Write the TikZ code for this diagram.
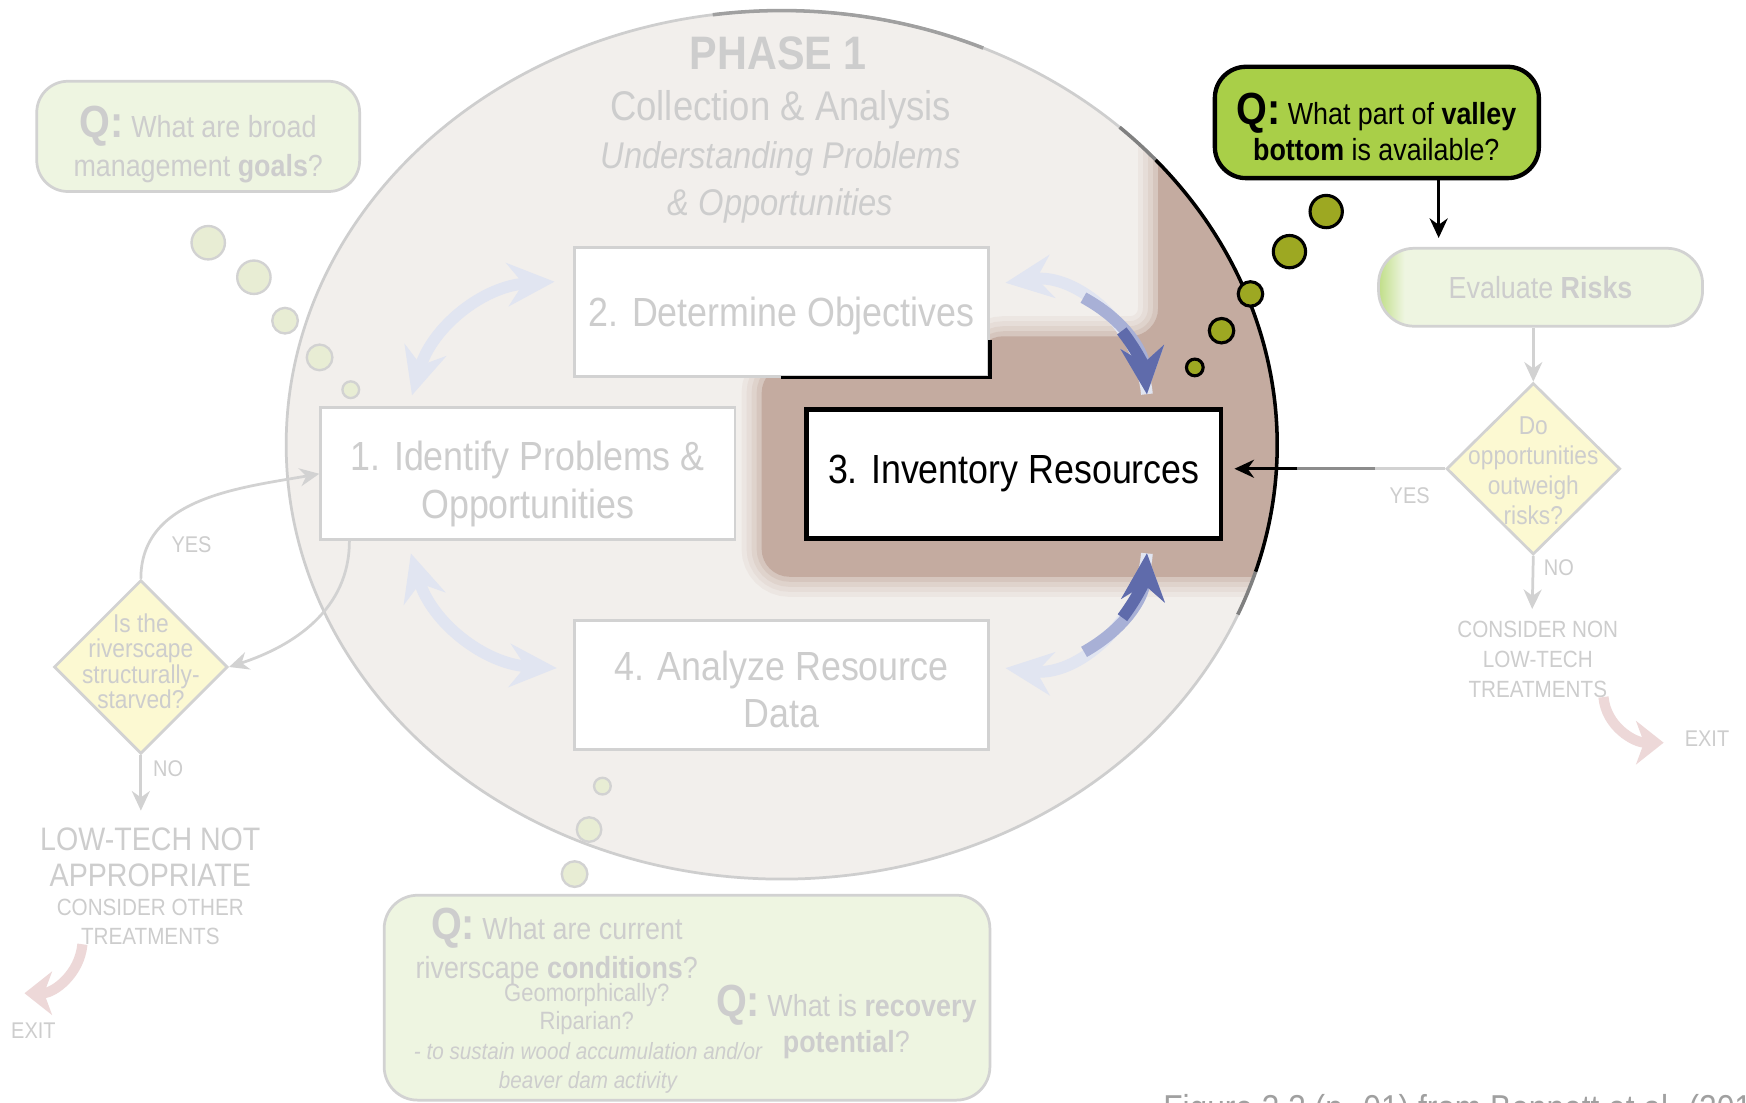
\documentclass[tikz,border=0pt]{standalone}
\usepackage{fontspec}
\setmainfont[FakeStretch=0.88]{Liberation Sans}
\usetikzlibrary{positioning,shapes.geometric,arrows.meta}

\definecolor{fadetext}{RGB}{205,205,205}
\definecolor{fadeline}{RGB}{210,210,210}
\definecolor{phasefill}{RGB}{242,239,236}
\definecolor{phaseline}{RGB}{206,206,206}
\definecolor{phasetop}{RGB}{160,160,160}
\definecolor{brownhl}{RGB}{196,171,160}
\definecolor{qfill}{RGB}{238,245,225}
\definecolor{thoughtfill}{RGB}{232,237,212}
\definecolor{qgreen}{RGB}{169,207,72}
\definecolor{dotgreen}{RGB}{157,168,34}
\definecolor{decfill}{RGB}{252,249,210}
\definecolor{cyclelight}{RGB}{225,229,241}
\definecolor{cyclemid}{RGB}{168,176,214}
\definecolor{cycledark}{RGB}{95,107,171}
\definecolor{exitpink}{RGB}{237,216,216}
\definecolor{glowgreen}{RGB}{192,222,135}
\definecolor{captiongray}{RGB}{160,160,160}

\pgfdeclarehorizontalshading{evalglow}{100bp}{color(0bp)=(glowgreen); color(25bp)=(glowgreen); color(29bp)=(qfill); color(100bp)=(qfill)}

\newcommand{\Qtag}{{\fontsize{11.5}{10}\selectfont\bfseries Q:}}

\begin{document}
\begin{tikzpicture}[x=0.1mm, y=0.1mm,
  phasebox/.style={rectangle, draw=fadeline, line width=0.7pt, fill=white, minimum width=37.2mm, minimum height=11.6mm, align=center, text=fadetext, font=\fontsize{10.4}{12.2}\selectfont},
  qbubble/.style={rectangle, rounded corners=2.8mm, draw=fadeline, line width=0.7pt, fill=qfill},
  qtext/.style={align=center, text=fadetext, inner sep=0pt, font=\fontsize{7.8}{10}\selectfont},
  evalbox/.style={rectangle, rounded corners=3.2mm, draw=fadeline, line width=0.7pt, shade, shading=evalglow, minimum width=29.1mm, minimum height=7mm, text=fadetext, font=\fontsize{7.8}{9}\selectfont},
  thought/.style={circle, draw=fadeline, line width=0.6pt, fill=thoughtfill, inner sep=0pt},
  greendot/.style={circle, draw=black, line width=0.8pt, fill=dotgreen, inner sep=0pt},
  decision/.style={diamond, draw=fadeline, line width=0.7pt, fill=decfill, inner sep=0pt, minimum width=15.6mm, minimum height=15.4mm},
  dectext/.style={align=center, text=fadetext, inner sep=0pt, font=\fontsize{6.6}{7.7}\selectfont},
  flow/.style={draw=fadeline, line width=0.7pt, -{Stealth[length=5pt,width=4.6pt]}},
  lbl/.style={text=fadetext, inner sep=0pt, font=\fontsize{5.8}{7}\selectfont},
  cyclearrow/.style={line width=3pt, {Stealth[length=12pt,width=11pt,inset=4pt]}-{Stealth[length=12pt,width=11pt,inset=4pt]}},
  cyclehead/.style={line width=3pt, -{Stealth[length=12pt,width=11pt,inset=4pt]}},
  cycletail/.style={line width=3pt, {Stealth[length=12pt,width=11pt,inset=4pt]}-},
  exitarrow/.style={draw=exitpink, line width=2.6pt, -{Stealth[length=7pt,width=11pt,inset=2pt]}}]

  \useasboundingbox (0,0) rectangle (1568,990);
  \fill[white] (0,0) rectangle (1568,990);

  % phase 1 ellipse and the highlighted corner
  \coordinate (phasec) at (702,590.5);
  \fill[phasefill] (phasec) ellipse [x radius=445, y radius=390];
  \begin{scope}
    \clip (phasec) ellipse [x radius=445, y radius=390];
    \fill[brownhl, rounded corners=2.5mm,
      preaction={draw=brownhl, line width=3.6mm, opacity=0.12},
      preaction={draw=brownhl, line width=2.7mm, opacity=0.15},
      preaction={draw=brownhl, line width=1.8mm, opacity=0.2},
      preaction={draw=brownhl, line width=0.9mm, opacity=0.3}]
      (684,472) -- (684,662) -- (876,662) -- (876,688) -- (1040,688) -- (1040,1000) -- (1200,1000) -- (1200,472) -- cycle;
  \end{scope}
  \draw[phaseline, line width=0.7pt] (phasec) ellipse [x radius=445, y radius=390];
  \draw[phasetop, line width=0.9pt] (phasec) ++(98:445 and 390) arc[start angle=98, end angle=66, x radius=445, y radius=390];
  \draw[black!50, line width=0.9pt] (phasec) ++(47:445 and 390) arc[start angle=47, end angle=41, x radius=445, y radius=390];
  \draw[black, line width=0.9pt] (phasec) ++(41:445 and 390) arc[start angle=41, end angle=-17, x radius=445, y radius=390];
  \draw[black!50, line width=0.9pt] (phasec) ++(-17:445 and 390) arc[start angle=-17, end angle=-23, x radius=445, y radius=390];

  \node[text=fadetext, font=\fontsize{12}{14}\selectfont\bfseries] (phase) at (699,942) {PHASE 1};
  \node[text=fadetext, align=center, font=\fontsize{10.6}{12.2}\selectfont] (phasesub) at (701,849) {Collection \& Analysis\\\textit{\fontsize{9.5}{12.2}\selectfont Understanding Problems}\\\textit{\fontsize{9.5}{12.2}\selectfont \& Opportunities}};

  % the four steps
  \node[phasebox] (box1) at (474,564.5) {\rule{0pt}{12.7pt}1. Identify Problems \&\\Opportunities};
  \node[phasebox] (box2) at (702,710) {\rule{0pt}{9.9pt}2. Determine Objectives};
  \node[phasebox, draw=black, line width=1.2pt, text=black] (box3) at (910.5,564.5) {3. Inventory Resources};
  \node[phasebox] (box4) at (702,375) {\rule{0pt}{9.9pt}4. Analyze Resource\\Data};
  \draw[black, line width=0.9pt] ([xshift=-18.8mm]box2.south east) -- (box2.south east) -- ([yshift=3.4mm]box2.south east);

  % cycle arrows
  \coordinate (a12s) at (370,635);
  \coordinate (a12e) at (498,737);
  \coordinate (a23s) at (903,736);
  \coordinate (a23e) at (1030,636);
  \coordinate (a34s) at (1030,493);
  \coordinate (a34e) at (903,390);
  \coordinate (a41s) at (500,390);
  \coordinate (a41e) at (369,493);
  \draw[cyclearrow, cyclelight] (a12s) to[bend left=35] (a12e);
  \draw[cyclearrow, cyclelight] (a41s) to[bend left=35] (a41e);
  \draw[cycletail, cyclelight] (a23s) to[bend left=46] node[coordinate, pos=0.4] (a23m) {} node[coordinate, pos=0.66] (a23n) {} (a23e);
  \draw[cyclehead, cyclemid] (a23m) to[bend left=28] (a23e);
  \draw[cyclehead, cycledark] (a23n) to[bend left=16] (a23e);
  \draw[cyclehead, cyclelight] (a34s) to[bend left=46] node[coordinate, pos=0.6] (a34m) {} node[coordinate, pos=0.34] (a34n) {} (a34e);
  \draw[cyclehead, cyclemid] (a34m) to[bend right=28] (a34s);
  \draw[cyclehead, cycledark] (a34n) to[bend right=16] (a34s);

  % goals question
  \node[qbubble, minimum width=29mm, minimum height=9.9mm] (goals) at (178,867.5) {};
  \node[qtext] (goalsq) at (178,860) {\Qtag{} What are broad\\management \textbf{goals}?};
  \node[thought, minimum size=3mm] (goaldot1) at (187,772) {};
  \node[thought, minimum size=3mm] (goaldot2) at (228,741) {};
  \node[thought, minimum size=2.3mm] (goaldot3) at (256,702) {};
  \node[thought, minimum size=2.3mm] (goaldot4) at (287,669) {};
  \node[thought, minimum size=1.5mm] (goaldot5) at (315,640) {};

  % valley bottom question
  \node[qbubble, draw=black, line width=1.1pt, fill=qgreen, minimum width=29.1mm, minimum height=10mm] (valley) at (1236.5,880) {};
  \node[qtext, text=black, font=\fontsize{7.8}{9.4}\selectfont] (valleyq) at (1236,876) {\Qtag{} What part of \textbf{valley}\\\textbf{bottom} is available?};
  \node[greendot, minimum size=2.9mm] (valdot1) at (1191,800) {};
  \node[greendot, minimum size=2.9mm] (valdot2) at (1158,764) {};
  \node[greendot, minimum size=2.2mm] (valdot3) at (1123,726) {};
  \node[greendot, minimum size=2.2mm] (valdot4) at (1097,693) {};
  \node[greendot, minimum size=1.5mm] (valdot5) at (1073,660) {};

  % risks branch
  \node[evalbox] (evalrisk) at (1383.5,732) {Evaluate \textbf{Risks}};
  \coordinate (valleyout) at (1292,830);
  \draw[black, line width=0.8pt, -{Stealth[length=5pt,width=4.6pt]}, shorten >=0.8mm] (valleyout) -- (valleyout |- evalrisk.north);
  \node[decision] (dright) at (1377,569) {};
  \node[dectext] (drighttext) at (1377,567) {Do\\opportunities\\outweigh\\risks?};
  \draw[flow] (evalrisk.south -| dright.north) -- (dright.north);
  \coordinate (yesmid) at (1235,569);
  \coordinate (yesfade) at (1165,569);
  \draw[fadeline, line width=0.7pt] (dright.west) -- (yesmid);
  \draw[black!45, line width=0.7pt] (yesmid) -- (yesfade);
  \draw[black, line width=0.8pt, -{Stealth[length=5pt,width=4.6pt]}, shorten >=1mm] (yesfade) -- (yesfade -| box3.east);
  \node[lbl] (yesright) at (1266,545) {YES};
  \coordinate (noright) at (1376,443);
  \draw[flow] (dright.south) -- (noright);
  \node[lbl] (noright lbl) at (1400,480) {NO};
  \node[text=fadetext, align=center, inner sep=0pt, font=\fontsize{6}{7.6}\selectfont] (nonlow) at (1381,398) {CONSIDER NON\\LOW-TECH\\TREATMENTS};
  \coordinate (exitr1) at (1440,364);
  \coordinate (exitr2) at (1494,323);
  \draw[exitarrow] (exitr1) to[out=-85, in=180] (exitr2);
  \node[lbl] (exitright) at (1533,327) {EXIT};

  % structurally-starved branch
  \node[decision, minimum height=15.6mm] (dleft) at (126.5,391) {};
  \node[dectext, font=\fontsize{6.6}{6.5}\selectfont] (dlefttext) at (126.5,396) {Is the\\riverscape\\structurally-\\starved?};
  \draw[flow] (dleft.north) to[out=90, in=190] (box1.west);
  \node[lbl] (yesleft) at (172,501) {YES};
  \draw[flow] ([xshift=2.7mm]box1.south west) to[out=-90, in=18] (dleft.east);
  \coordinate (noleft) at (126.5,262);
  \draw[flow] (dleft.south) -- (noleft);
  \node[lbl] (noleft lbl) at (151,300) {NO};
  \node[text=fadetext, align=center, inner sep=0pt, font=\fontsize{8.3}{9.4}\selectfont] (lowtech) at (135,220) {LOW-TECH NOT\\APPROPRIATE};
  \node[text=fadetext, align=center, inner sep=0pt, font=\fontsize{6}{7.4}\selectfont] (otherlow) at (135,162) {CONSIDER OTHER\\TREATMENTS};
  \coordinate (exitl1) at (74,142);
  \coordinate (exitl2) at (22,98);
  \draw[exitarrow] (exitl1) to[out=-95, in=0] (exitl2);
  \node[lbl] (exitleft) at (30,64) {EXIT};

  % conditions and recovery questions
  \node[thought, minimum size=1.5mm] (conddot1) at (541,284) {};
  \node[thought, minimum size=2.2mm] (conddot2) at (529,245) {};
  \node[thought, minimum size=2.3mm] (conddot3) at (516,205) {};
  \node[qbubble, rounded corners=3mm, minimum width=54.4mm, minimum height=18.4mm] (condbox) at (617,94) {};
  \node[qtext] (condq) at (500,140) {\Qtag{} What are current\\riverscape \textbf{conditions}?};
  \node[qtext, font=\fontsize{6.4}{7.1}\selectfont] (condsub) at (527,83.5) {Geomorphically?\\Riparian?};
  \node[qtext, font=\fontsize{6}{7.4}\selectfont\itshape] (condwood) at (528,31) {- to sustain wood accumulation and/or\\beaver dam activity};
  \node[qtext, font=\fontsize{7.8}{9.1}\selectfont] (recovq) at (760,72) {\Qtag{} What is \textbf{recovery}\\\textbf{potential}?};

  \node[text=captiongray, anchor=base west, inner sep=0pt, font=\fontsize{9.2}{11}\selectfont] (caption) at (1044,-16) {Figure 3.3 (p. 01) from Bennett et al. (2019)};
\end{tikzpicture}
\end{document}
